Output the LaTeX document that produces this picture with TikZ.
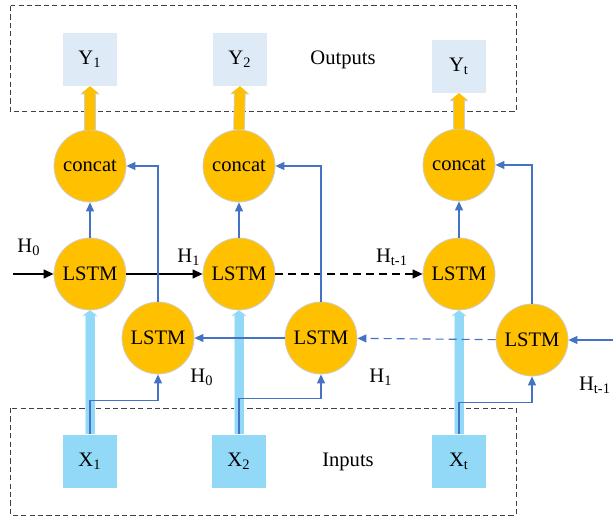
\documentclass[tikz,border=0pt]{standalone}
\usepackage{fontspec}
\setmainfont{Liberation Serif}
\usetikzlibrary{arrows.meta,positioning}
\definecolor{cellfill}{RGB}{255,192,0}
\definecolor{linkblue}{RGB}{68,114,196}
\definecolor{outfill}{RGB}{222,235,247}
\definecolor{infill}{RGB}{146,217,247}
\definecolor{rimgray}{RGB}{205,205,205}

\begin{document}
\begin{tikzpicture}[
    x=0.5pt, y=-0.5pt,
    font=\fontsize{10.3}{12.4}\selectfont,
    cell/.style={circle, draw=rimgray, line width=0.4pt, fill=cellfill, minimum size=36pt, inner sep=0pt},
    outbox/.style={fill=outfill, minimum width=27pt, minimum height=26.5pt, inner sep=0pt},
    inbox/.style={fill=infill, minimum width=27pt, minimum height=26.5pt, inner sep=0pt},
    group/.style={draw=black!75, dash pattern=on 2.6pt off 1.6pt, line width=0.5pt},
    fwd/.style={-{Triangle[length=5pt,width=4.5pt]}, line width=0.65pt},
    link/.style={-{Triangle[length=4.5pt,width=4pt]}, linkblue, line width=0.55pt},
    outarrow/.style={-{Triangle[length=3.5pt,width=8.5pt,line width=0pt]}, cellfill, line width=5pt,
        preaction={draw=rimgray, line width=5.8pt, -{Triangle[length=4pt,width=9.6pt,line width=0pt]}}},
    inarrow/.style={-{Triangle[length=2.5pt,width=7pt,line width=0pt]}, infill, line width=4.5pt,
        preaction={draw=infill!45, line width=5.3pt, -{Triangle[length=3pt,width=8pt,line width=0pt]}}}
]
    \useasboundingbox (0,0) rectangle (613,517);

    % Group frames
    \draw[group] (10.6,6) rectangle (516,112);
    \draw[group] (10.6,408) rectangle (516,515);
    \node (outlabel) at (343,60) {Outputs};
    \node (inlabel) at (348,462) {Inputs};

    % Outputs
    \node[outbox] (y1) at (90,59.4) {Y\textsubscript{1}};
    \node[outbox] (y2) at (240,59.4) {Y\textsubscript{2}};
    \node[outbox] (yt) at (459,66.3) {Y\textsubscript{t}};

    % Concat cells
    \node[cell] (c1) at (90,166) {concat};
    \node[cell] (c2) at (239,166) {concat};
    \node[cell] (c3) at (459,165) {concat};

    % Forward LSTM row
    \node[cell] (f1) at (90,274) {LSTM};
    \node[cell] (f2) at (239,274) {LSTM};
    \node[cell] (f3) at (459,274) {LSTM};

    % Backward LSTM row
    \node[cell] (b1) at (158,338) {LSTM};
    \node[cell] (b2) at (321,338) {LSTM};
    \node[cell] (b3) at (532,340) {LSTM};

    % Inputs
    \node[inbox] (x1) at (90,461.3) {X\textsubscript{1}};
    \node[inbox] (x2) at (239,461.3) {X\textsubscript{2}};
    \node[inbox] (xt) at (459,461.3) {X\textsubscript{t}};

    % Hidden state labels
    \node (hf0) at (29,247) {H\textsubscript{0}};
    \node (hf1) at (189,257) {H\textsubscript{1}};
    \node (hft) at (392,257) {H\textsubscript{t-1}};
    \node (hb0) at (202,377) {H\textsubscript{0}};
    \node (hb1) at (381,377) {H\textsubscript{1}};
    \node (hbt) at (595,385) {H\textsubscript{t-1}};

    \coordinate (hin) at (13,274);
    \coordinate (bin) at (613,340);

    % Wide arrows
    \foreach \c/\y in {c1/y1, c2/y2, c3/yt}
        \draw[outarrow] (\c.north) -- (\y.south);
    \foreach \x/\f in {x1/f1, x2/f2, xt/f3}
        \draw[inarrow] (\x.north) -- (\f.south);

    % Forward chain
    \draw[fwd] (hin) -- (f1);
    \draw[fwd] (f1) -- (f2);
    \draw[fwd, dash pattern=on 4pt off 2.5pt] (f2) -- (f3);

    % Backward chain
    \draw[link] (bin) -- (b3);
    \draw[link, dash pattern=on 4pt off 2.5pt] (b3) -- (b2);
    \draw[link] (b2) -- (b1);

    % Into concat
    \foreach \f/\c in {f1/c1, f2/c2, f3/c3}
        \draw[link] (\f) -- (\c);
    \foreach \b/\c in {b1/c1, b2/c2, b3/c3}
        \draw[link] (\b.north) |- (\c.east);

    % Inputs to backward cells
    \draw[link] (x1.north) -- ++(0,-34) -| (b1.south);
    \draw[link] (x2.north) -- ++(0,-36) -| (b2.south);
    \draw[link] (xt.north) -- ++(0,-32) -| (b3.south);
\end{tikzpicture}
\end{document}
